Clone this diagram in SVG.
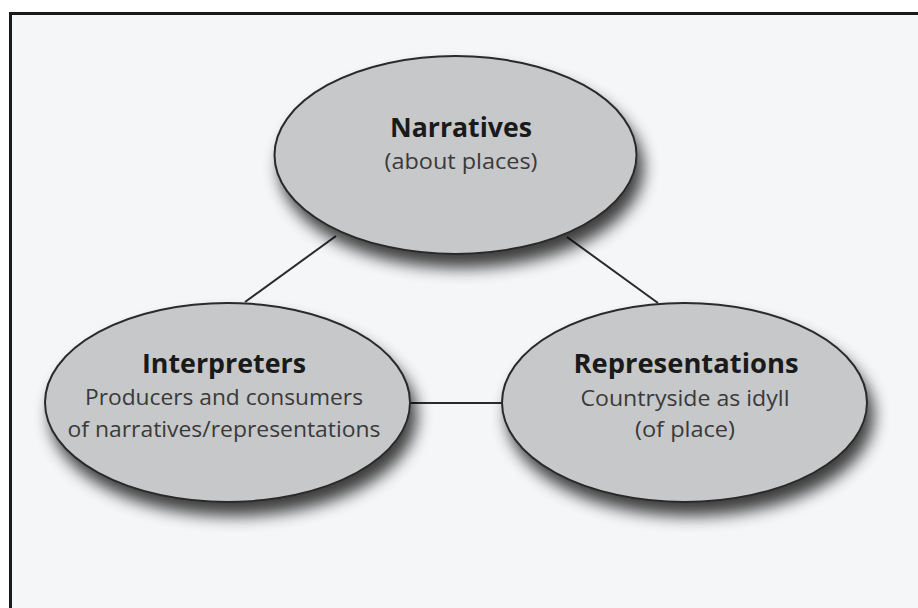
<svg xmlns="http://www.w3.org/2000/svg" width="918" height="608" viewBox="0 0 918 608">
  <defs>
    <filter id="shadow" x="-20%" y="-20%" width="150%" height="160%">
      <feGaussianBlur in="SourceAlpha" stdDeviation="8"/>
      <feOffset dx="6" dy="13" result="b"/>
      <feComponentTransfer><feFuncA type="linear" slope="0.75"/></feComponentTransfer>
      <feMerge><feMergeNode/><feMergeNode in="SourceGraphic"/></feMerge>
    </filter>
  </defs>
  <style>
    .node { fill: #c7c8ca; stroke: #2a2a2a; stroke-width: 2; }
    .conn { stroke: #2a2a2a; stroke-width: 2; fill: none; }
    .title { font-family: "Open Sans", "Noto Sans", sans-serif; font-weight: bold; font-size: 26px; fill: #1a1a1a; text-anchor: middle; }
    .sub { font-family: "Open Sans", "Noto Sans", sans-serif; font-size: 22px; fill: #3a3a3a; text-anchor: middle; }
  </style>
  <rect x="0" y="0" width="918" height="608" fill="#ffffff"/>
  <rect x="10.5" y="13.5" width="920" height="610" fill="#f5f6f8" stroke="#1a1a1a" stroke-width="3"/>
  <g id="connectors">
    <line class="conn" x1="245" y1="302" x2="336" y2="236"/>
    <line class="conn" x1="567" y1="237" x2="658" y2="303"/>
    <line class="conn" x1="409" y1="403" x2="503" y2="403"/>
  </g>
  <g id="narratives">
    <ellipse class="node" cx="455.5" cy="155" rx="181" ry="99" filter="url(#shadow)"/>
    <text class="title" x="461" y="137" textLength="142" lengthAdjust="spacingAndGlyphs">Narratives</text>
    <text class="sub" x="461" y="169" textLength="153" lengthAdjust="spacingAndGlyphs">(about places)</text>
  </g>
  <g id="interpreters">
    <ellipse class="node" cx="227.5" cy="402.5" rx="182.5" ry="99.5" filter="url(#shadow)"/>
    <text class="title" x="224" y="373" textLength="164" lengthAdjust="spacingAndGlyphs">Interpreters</text>
    <text class="sub" x="224" y="405" textLength="278" lengthAdjust="spacingAndGlyphs">Producers and consumers</text>
    <text class="sub" x="224" y="437" textLength="313" lengthAdjust="spacingAndGlyphs">of narratives/representations</text>
  </g>
  <g id="representations">
    <ellipse class="node" cx="684.5" cy="402.5" rx="182.5" ry="99.5" filter="url(#shadow)"/>
    <text class="title" x="686" y="373" textLength="225" lengthAdjust="spacingAndGlyphs">Representations</text>
    <text class="sub" x="685" y="406" textLength="209" lengthAdjust="spacingAndGlyphs">Countryside as idyll</text>
    <text class="sub" x="685" y="437" textLength="100" lengthAdjust="spacingAndGlyphs">(of place)</text>
  </g>
</svg>
